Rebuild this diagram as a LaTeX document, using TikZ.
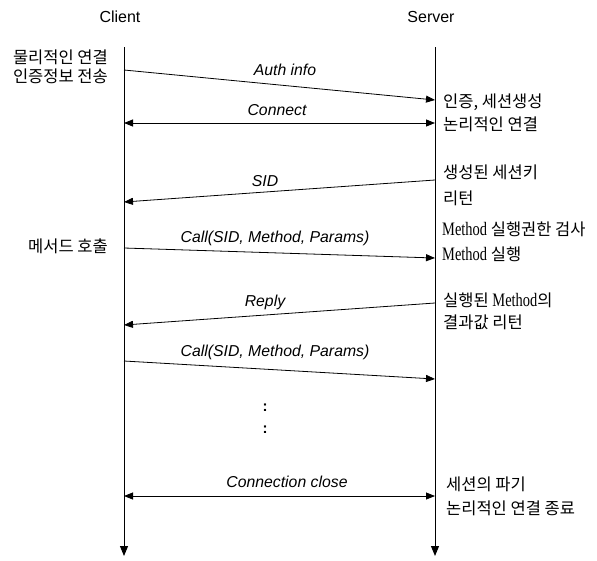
\documentclass[tikz,border=0pt]{standalone}
\usepackage{fontspec}
\setmainfont{Liberation Sans}
\newfontfamily\kr{Noto Sans CJK KR}
\newfontfamily\tnr[FakeStretch=0.76]{Liberation Serif}
\usetikzlibrary{arrows.meta}
\newcommand{\mth}{{\tnr\fontsize{19}{20}\selectfont Method}}
\begin{document}
\begin{tikzpicture}[x=1pt,y=-1pt,
  lifeline/.style={line width=1pt,-{Triangle[length=10pt,width=8pt]}},
  msg/.style={line width=0.8pt,-{Triangle[length=9pt,width=7pt]}},
  bimsg/.style={line width=0.8pt,{Triangle[length=9pt,width=7pt]}-{Triangle[length=9pt,width=7pt]}},
  lbl/.style={font=\fontsize{15.8}{18}\selectfont\itshape,inner sep=0pt},
  head/.style={font=\fontsize{16}{19}\selectfont,inner sep=0pt},
  rnote/.style={font=\kr\fontsize{16.5}{18}\selectfont,inner sep=0pt,anchor=west},
  lnote/.style={font=\kr\fontsize{16.5}{18}\selectfont,inner sep=0pt,anchor=east},
  dots/.style={font=\fontsize{15}{18}\selectfont\bfseries,inner sep=0pt},
]
\useasboundingbox (0,0) rectangle (597,560);
% headers
\node[head] (client) at (120,17) {Client};
\node[head] (server) at (431,17) {Server};
% lifelines
\coordinate (ctop) at (124,47);
\coordinate (cbot) at (124,556);
\coordinate (stop) at (435,47);
\coordinate (sbot) at (435,556);
\draw[lifeline] (ctop) -- (cbot);
\draw[lifeline] (stop) -- (sbot);
% message end points
\coordinate (a1) at (124,70);  \coordinate (a2) at (435,100);
\coordinate (b1) at (124,123); \coordinate (b2) at (435,123);
\coordinate (c1) at (435,180); \coordinate (c2) at (124,202);
\coordinate (d1) at (124,248); \coordinate (d2) at (435,258);
\coordinate (e1) at (435,303); \coordinate (e2) at (124,325);
\coordinate (f1) at (124,361); \coordinate (f2) at (435,379);
\coordinate (g1) at (124,496); \coordinate (g2) at (435,496);
\draw[msg] (a1) -- (a2);
\draw[bimsg] (b1) -- (b2);
\draw[msg] (c1) -- (c2);
\draw[msg] (d1) -- (d2);
\draw[msg] (e1) -- (e2);
\draw[msg] (f1) -- (f2);
\draw[bimsg] (g1) -- (g2);
% message labels
\node[lbl] (la) at (285,70) {Auth info};
\node[lbl] (lb) at (277,110) {Connect};
\node[lbl] (lc) at (265,181) {SID};
\node[lbl] (ld) at (275,238) {Call(SID, Method, Params)};
\node[lbl] (le) at (265,302) {Reply};
\node[lbl] (lf) at (275,352) {Call(SID, Method, Params)};
\node[lbl] (lg) at (287,482) {Connection close};
\node[dots] (dot1) at (265,408) {:};
\node[dots] (dot2) at (265,430) {:};
% left notes
\node[lnote] (n1) at (108,57) {물리적인 연결};
\node[lnote] (n2) at (108,76) {인증정보 전송};
\node[lnote] (n3) at (108,246) {메서드 호출};
% right notes
\node[rnote] (r1) at (443,102) {인증, 세션생성};
\node[rnote] (r2) at (443,124) {논리적인 연결};
\node[rnote] (r3) at (443,172) {생성된 세션키};
\node[rnote] (r4) at (443,198) {리턴};
\node[rnote] (r5) at (442,229) {\mth{} 실행권한 검사};
\node[rnote] (r6) at (442,254) {\mth{} 실행};
\node[rnote] (r7) at (443,300) {실행된 \mth{}의};
\node[rnote] (r8) at (443,322) {결과값 리턴};
\node[rnote] (r9) at (446,484) {세션의 파기};
\node[rnote] (r10) at (446,508) {논리적인 연결 종료};
\end{tikzpicture}
\end{document}
